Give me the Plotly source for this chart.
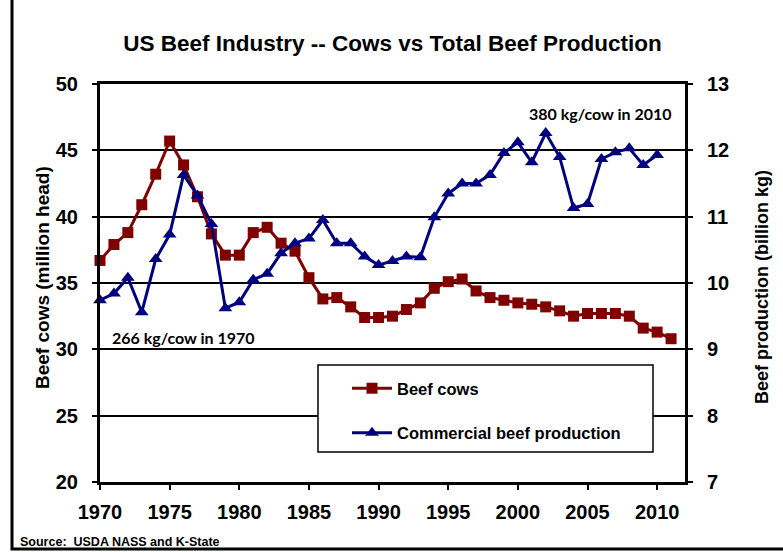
import plotly.graph_objects as go

# Calendar years on the horizontal axis
years_cows = [1970, 1971, 1972, 1973, 1974, 1975, 1976, 1977, 1978, 1979,
              1980, 1981, 1982, 1983, 1984, 1985, 1986, 1987, 1988, 1989,
              1990, 1991, 1992, 1993, 1994, 1995, 1996, 1997, 1998, 1999,
              2000, 2001, 2002, 2003, 2004, 2005, 2006, 2007, 2008, 2009,
              2010, 2011]
years_prod = years_cows[:-1]

# Beef cow inventory, million head
beef_cows = [36.7, 37.9, 38.8, 40.9, 43.2, 45.7, 43.9, 41.5, 38.7, 37.1,
             37.1, 38.8, 39.2, 38.0, 37.4, 35.4, 33.8, 33.9, 33.2, 32.4,
             32.4, 32.5, 33.0, 33.5, 34.6, 35.1, 35.3, 34.4, 33.9, 33.7,
             33.5, 33.4, 33.2, 32.9, 32.5, 32.7, 32.7, 32.7, 32.5, 31.6,
             31.3, 30.8]

# Commercial beef production, billion kg
beef_production = [9.74, 9.84, 10.08, 9.56, 10.36, 10.73, 11.63, 11.32, 10.89, 9.62,
                   9.71, 10.05, 10.14, 10.45, 10.60, 10.67, 10.95, 10.60, 10.60, 10.40,
                   10.27, 10.33, 10.40, 10.39, 10.99, 11.35, 11.50, 11.50, 11.63, 11.96,
                   12.12, 11.82, 12.26, 11.90, 11.13, 11.19, 11.87, 11.97, 12.03, 11.78,
                   11.93]

x_ticks = [1970, 1975, 1980, 1985, 1990, 1995, 2000, 2005, 2010]
left_ticks = [20, 25, 30, 35, 40, 45, 50]
right_ticks = [7, 8, 9, 10, 11, 12, 13]

RED = "#800000"
BLUE = "#000080"
FONT = "Liberation Sans, Arial, sans-serif"
NOTE_FONT = "Lato, Open Sans, sans-serif"

fig = go.Figure()

fig.add_trace(go.Scatter(
    x=years_cows, y=beef_cows, name="Beef cows",
    mode="lines+markers", legendgroup="cows",
    line=dict(color=RED, width=3),
    marker=dict(symbol="square", size=11, color=RED),
    cliponaxis=False,
))

fig.add_trace(go.Scatter(
    x=years_prod, y=beef_production, name="Commercial beef production",
    mode="lines+markers", legendgroup="prod", yaxis="y2",
    line=dict(color=BLUE, width=3),
    marker=dict(symbol="triangle-up", size=12, color=BLUE),
    cliponaxis=False,
))

W, H = 783, 552
L, R, T, B = 100, 98, 84, 70
pw, ph = W - L - R, H - T - B


def px_x(px):
    return (px - L) / pw


def px_y(py):
    return (H - B - py) / ph


tick_font = dict(family=FONT, size=20, color="black", weight="bold")

fig.update_layout(
    width=W, height=H,
    margin=dict(l=L, r=R, t=T, b=B, autoexpand=False),
    paper_bgcolor="white", plot_bgcolor="white",
    showlegend=True,
    title=dict(
        text="<b>US Beef Industry -- Cows vs Total Beef Production</b>",
        font=dict(family=FONT, size=22.5, color="black"),
        x=0.5, xanchor="center", xref="paper",
        y=1 - 43 / H, yanchor="middle", yref="container",
    ),
    xaxis=dict(
        range=[1970, 2012], tickvals=x_ticks, ticktext=[str(v) for v in x_ticks],
        showline=True, linecolor="black", linewidth=3, mirror=True,
        ticks="outside", ticklen=5, tickwidth=1.5, tickcolor="black",
        showgrid=False, zeroline=False, tickfont=tick_font,
        ticklabelstandoff=5,
    ),
    yaxis=dict(
        range=[20, 50], tickvals=left_ticks,
        showline=True, linecolor="black", linewidth=3,
        ticks="outside", ticklen=5, tickwidth=1.5, tickcolor="black",
        showgrid=True, gridcolor="black", gridwidth=1.5, zeroline=False,
        tickfont=tick_font, ticklabelstandoff=10,
    ),
    yaxis2=dict(
        range=[7, 13], tickvals=right_ticks, overlaying="y", side="right",
        showline=True, linecolor="black", linewidth=3,
        ticks="outside", ticklen=5, tickwidth=1.5, tickcolor="black",
        showgrid=False, zeroline=False,
        tickfont=tick_font, ticklabelstandoff=10,
    ),
    legend=dict(
        x=px_x(347), y=px_y(371), xanchor="left", yanchor="top",
        bgcolor="rgba(0,0,0,0)", borderwidth=0,
        font=dict(family=FONT, size=16.5, color="black", weight="bold"),
        traceorder="grouped", tracegroupgap=20, itemwidth=40,
    ),
    shapes=[
        # legend frame
        dict(type="rect", xref="paper", yref="paper", layer="above",
             x0=px_x(318), x1=px_x(653), y0=px_y(452), y1=px_y(365),
             line=dict(color="black", width=1.5), fillcolor="white"),
        # chart-area frame
        dict(type="rect", xref="paper", yref="paper", layer="below",
             x0=px_x(12), x1=px_x(790), y0=px_y(549), y1=px_y(-5),
             line=dict(color="black", width=3), fillcolor="rgba(0,0,0,0)"),
    ],
    annotations=[
        dict(text="<b>Beef cows (million head)</b>", textangle=-90,
             xref="paper", yref="paper", x=px_x(42), y=px_y(278),
             xanchor="center", yanchor="middle", showarrow=False,
             font=dict(family=FONT, size=19, color="black")),
        dict(text="<b>Beef production (billion kg)</b>", textangle=-90,
             xref="paper", yref="paper", x=px_x(762), y=px_y(287),
             xanchor="center", yanchor="middle", showarrow=False,
             font=dict(family=FONT, size=18, color="black")),
        dict(text="<b>380 kg/cow in 2010</b>",
             xref="paper", yref="paper", x=px_x(600), y=px_y(113),
             xanchor="center", yanchor="middle", showarrow=False,
             font=dict(family=NOTE_FONT, size=16, color="black")),
        dict(text="<b>266 kg/cow in 1970</b>",
             xref="paper", yref="paper", x=px_x(183), y=px_y(337),
             xanchor="center", yanchor="middle", showarrow=False,
             font=dict(family=NOTE_FONT, size=16, color="black")),
        dict(text="<b>Source:  USDA NASS and K-State</b>",
             xref="paper", yref="paper", x=px_x(18), y=px_y(542),
             xanchor="left", yanchor="middle", showarrow=False,
             font=dict(family=FONT, size=12.5, color="black")),
    ],
)

fig.write_html("out.html")
